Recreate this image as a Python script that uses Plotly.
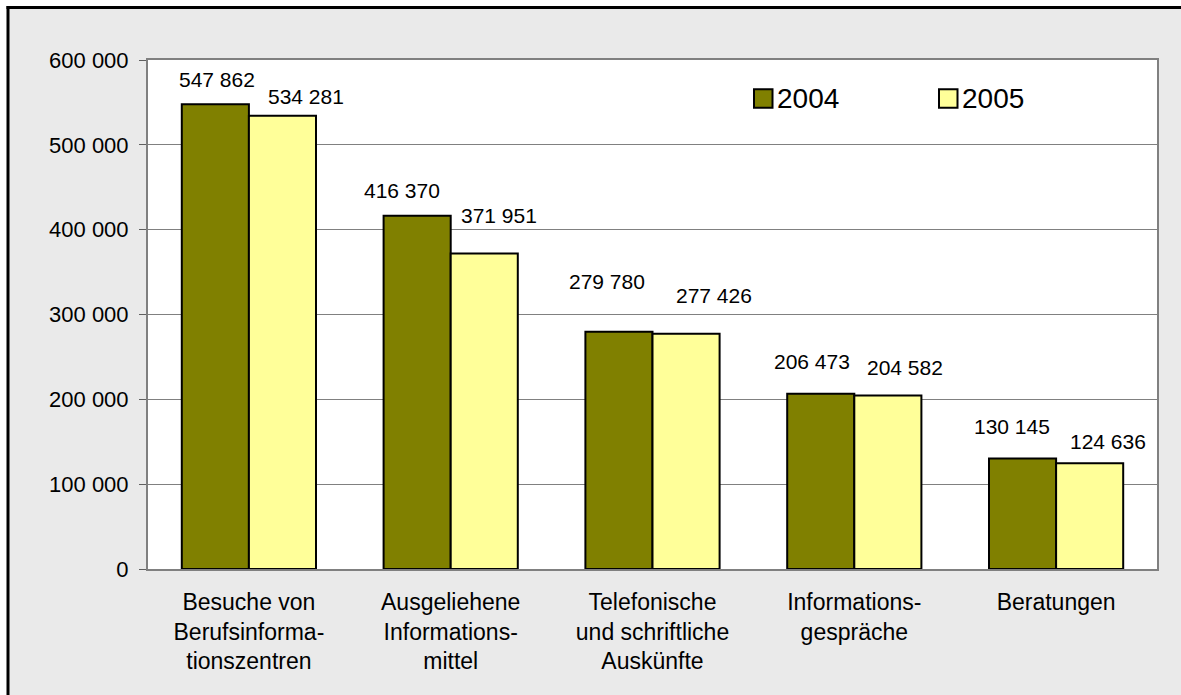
import plotly.graph_objects as go

# ---- data ----
categories = [
    "Besuche von<br>Berufsinforma-<br>tionszentren",
    "Ausgeliehene<br>Informations-<br>mittel",
    "Telefonische<br>und schriftliche<br>Auskünfte",
    "Informations-<br>gespräche",
    "Beratungen",
]
series_names = ["2004", "2005"]
values_2004 = [547862, 416370, 279780, 206473, 130145]
values_2005 = [534281, 371951, 277426, 204582, 124636]
y_tick_values = [0, 100000, 200000, 300000, 400000, 500000, 600000]
y_tick_labels = ["0", "100 000", "200 000", "300 000", "400 000", "500 000", "600 000"]

# ---- style ----
W, H = 1181, 695
ML, MR, MT, MB = 148, 24, 60, 126
PW, PH = W - ML - MR, H - MT - MB
BARGAP = 0.335
colors = ["#808000", "#FFFF99"]
FONT = "Liberation Sans, Arial, sans-serif"
# manual label placement (pixels): horizontal shift from bar centre, height above bar top
label_dx = [[2, -15, -12, -9, -11], [24, 15, 28, 17, 18]]
label_dy = [[25, 25, 50, 32, 32], [19, 38, 38, 28, 22]]

series_values = [values_2004, values_2005]

fig = go.Figure()
for name, vals, col in zip(series_names, series_values, colors):
    fig.add_trace(go.Bar(
        x=categories, y=vals, name=name,
        marker=dict(color=col, line=dict(color="black", width=2)),
        showlegend=False,
    ))

# data labels
half_offset = PW / len(categories) * (1 - BARGAP) / 4
for s, vals in enumerate(series_values):
    sign = -1 if s == 0 else 1
    for i, v in enumerate(vals):
        fig.add_annotation(
            x=categories[i], y=v, xref="x", yref="y",
            text=f"{v:,}".replace(",", " "),
            showarrow=False,
            xanchor="center", yanchor="middle",
            xshift=sign * half_offset + label_dx[s][i],
            yshift=label_dy[s][i],
            font=dict(family=FONT, size=21, color="black"),
        )

def px_x(p):
    return (p - ML) / PW

def px_y(p):
    return (H - MB - p) / PH

shapes = []
# white strips outside the outer frame
shapes.append(dict(type="rect", xref="paper", yref="paper",
                   x0=px_x(-5), x1=px_x(W + 5), y0=px_y(7), y1=px_y(-5),
                   fillcolor="white", line=dict(width=0), layer="below"))
shapes.append(dict(type="rect", xref="paper", yref="paper",
                   x0=px_x(-5), x1=px_x(8), y0=px_y(H + 5), y1=px_y(-5),
                   fillcolor="white", line=dict(width=0), layer="below"))
# outer frame: only top and left edges are inside the picture
shapes.append(dict(type="line", xref="paper", yref="paper",
                   x0=px_x(6.5), x1=px_x(W + 5), y0=px_y(7.5), y1=px_y(7.5),
                   line=dict(color="black", width=3), layer="above"))
shapes.append(dict(type="line", xref="paper", yref="paper",
                   x0=px_x(8), x1=px_x(8), y0=px_y(6), y1=px_y(H + 5),
                   line=dict(color="black", width=3), layer="above"))

# legend
legend_sq_x = [754, 939]
legend_y = 98.5
sq = 18.5
for name, col, lx in zip(series_names, colors, legend_sq_x):
    shapes.append(dict(type="rect", xref="paper", yref="paper",
                       x0=px_x(lx), x1=px_x(lx + sq),
                       y0=px_y(legend_y + sq / 2), y1=px_y(legend_y - sq / 2),
                       fillcolor=col, line=dict(color="black", width=2), layer="above"))
    fig.add_annotation(x=px_x(lx + sq + 2), y=px_y(legend_y), xref="paper", yref="paper",
                       text=name, showarrow=False, xanchor="left", yanchor="middle",
                       font=dict(family=FONT, size=28, color="black"))

fig.update_layout(
    width=W, height=H,
    margin=dict(l=ML, r=MR, t=MT, b=MB, autoexpand=False),
    paper_bgcolor="#EAEAEA",
    plot_bgcolor="white",
    barmode="group", bargap=BARGAP, bargroupgap=0,
    font=dict(family=FONT, size=22, color="black"),
    shapes=shapes,
    showlegend=False,
)
fig.update_xaxes(
    type="category", showline=True, linecolor="#808080", linewidth=2, mirror=True,
    ticks="", showgrid=False, ticklabelstandoff=11,
    tickfont=dict(family=FONT, size=23, color="black"),
)
fig.update_yaxes(
    range=[0, 600000], tickvals=y_tick_values, ticktext=y_tick_labels,
    showline=True, linecolor="#808080", linewidth=2, mirror=True,
    ticks="outside", ticklen=7, tickcolor="#606060", tickwidth=1,
    showgrid=True, gridcolor="#808080", gridwidth=1, ticklabelstandoff=6,
    tickfont=dict(family=FONT, size=22, color="black"),
    zeroline=False,
)

fig.write_html(
    "out.html",
    config={"displayModeBar": False},
    post_script="document.body.style.margin='0';document.body.style.overflow='hidden';",
)
